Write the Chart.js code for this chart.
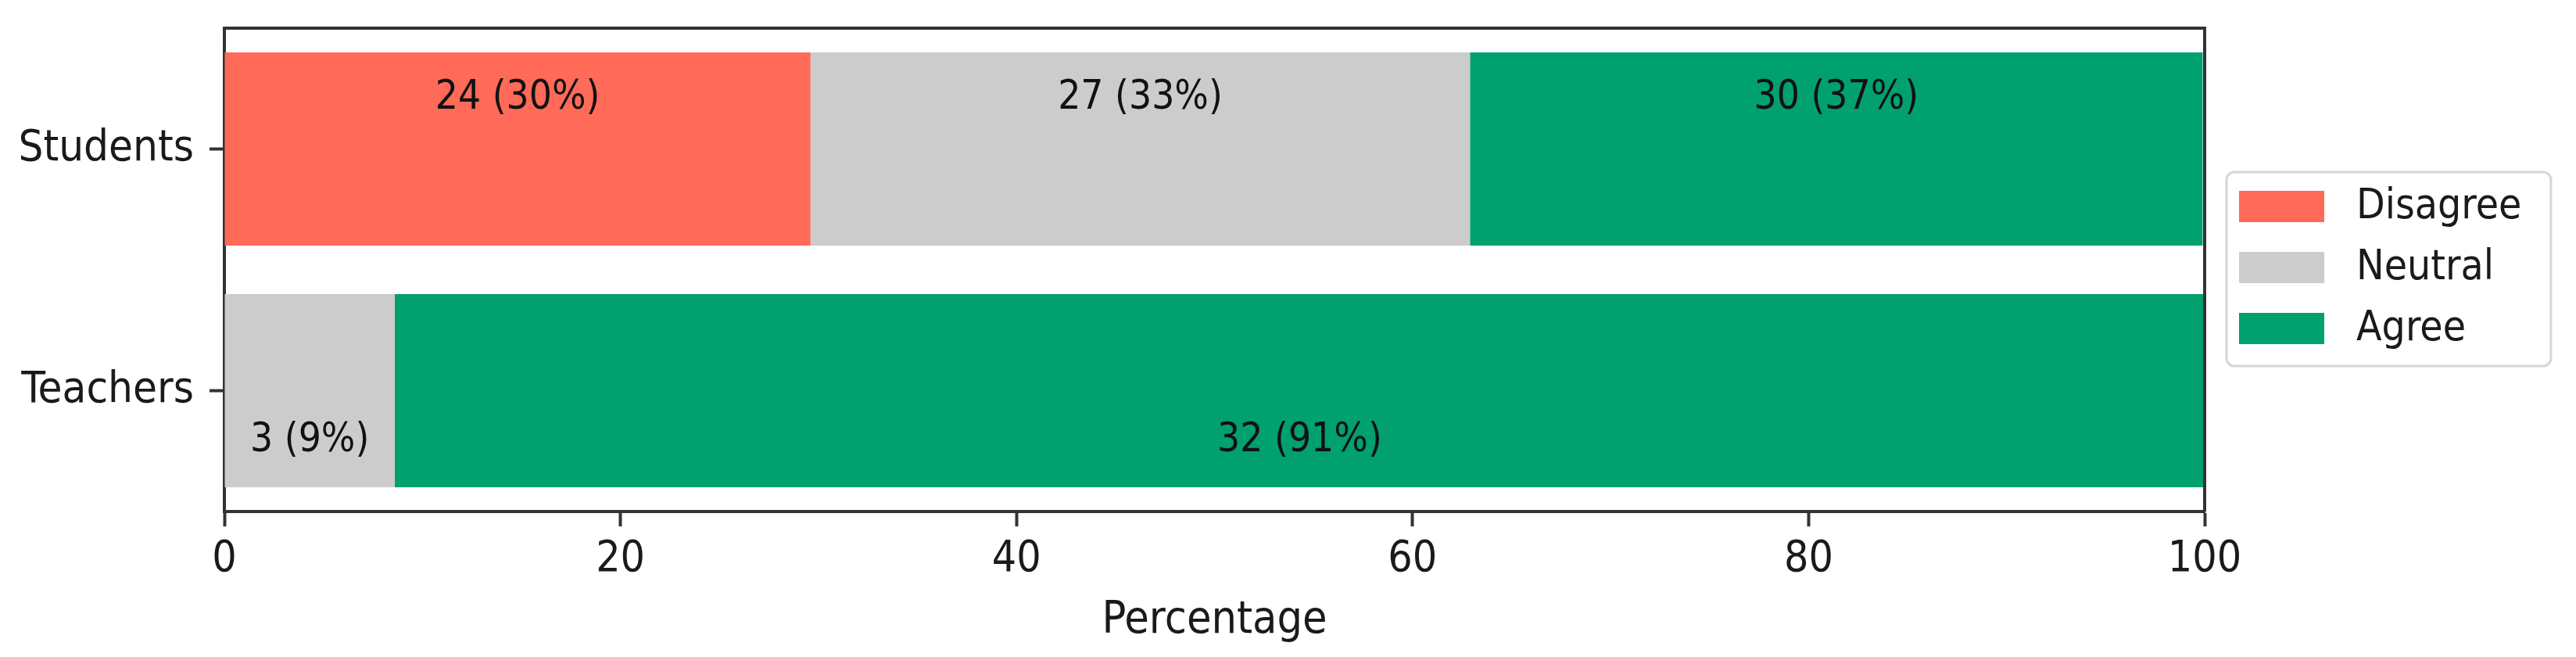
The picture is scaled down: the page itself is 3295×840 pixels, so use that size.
<!DOCTYPE html>
<html>
<head>
<meta charset="utf-8">
<script src="https://cdn.jsdelivr.net/npm/chart.js@4.4.1/dist/chart.umd.min.js"></script>
<style>
  html, body { margin: 0; padding: 0; background: #fff; }
  #wrap { width: 3295px; height: 840px; }
</style>
</head>
<body>
<div id="wrap"><canvas id="likert-chart" width="3295" height="840"></canvas></div>
<script>
// groups and answer categories
const groups = ['Students', 'Teachers'];
const answers = ['Disagree', 'Neutral', 'Agree'];

// counts per answer (one entry per group)
const disagreeCounts = [24, 0];
const neutralCounts = [27, 3];
const agreeCounts = [30, 32];

// bar lengths in percent
const disagreePct = [29.6, 0];
const neutralPct = [33.3, 8.6];
const agreePct = [37.0, 91.4];

const xTicks = [0, 20, 40, 60, 80, 100];

const colors = ['#FF6A59', '#CCCCCC', '#00A06F'];
const FONT = "'DejaVu Sans Condensed', 'DejaVu Sans', sans-serif";

document.addEventListener('DOMContentLoaded', () => {
    const ctx = document.getElementById('likert-chart').getContext('2d');

    const counts = [disagreeCounts, neutralCounts, agreeCounts];
    const pcts = [disagreePct, neutralPct, agreePct];

    // labels inside the segments, e.g. "24 (30%)"
    const segmentLabels = {
        id: 'segmentLabels',
        afterDatasetsDraw(chart) {
            const c = chart.ctx;
            c.save();
            c.font = '51px ' + FONT;
            c.fillStyle = '#111';
            c.textAlign = 'center';
            c.textBaseline = 'middle';
            chart.data.datasets.forEach((ds, di) => {
                const meta = chart.getDatasetMeta(di);
                meta.data.forEach((bar, i) => {
                    const n = counts[di][i];
                    if (!n) return;
                    const p = pcts[di][i];
                    const shift = (i === 0 ? -0.26 : 0.26) * bar.height;
                    c.fillText(n + ' (' + Math.round(p) + '%)', (bar.x + bar.base) / 2, bar.y + shift);
                });
            });
            c.restore();
        }
    };

    // top and right spines plus the legend box
    const frameAndLegend = {
        id: 'frameAndLegend',
        afterDraw(chart) {
            const c = chart.ctx;
            const a = chart.chartArea;
            c.save();
            c.strokeStyle = '#333';
            c.lineWidth = 4;
            c.beginPath();
            c.moveTo(a.left, a.top);
            c.lineTo(a.right, a.top);
            c.lineTo(a.right, a.bottom);
            c.stroke();

            // legend
            const bx = 2848, by = 220, bw = 415, bh = 248;
            c.strokeStyle = '#d6d6d6';
            c.lineWidth = 3;
            c.beginPath();
            c.roundRect(bx, by, bw, bh, 10);
            c.fillStyle = 'rgba(255,255,255,0.8)';
            c.fill();
            c.stroke();

            c.font = '53px ' + FONT;
            c.textAlign = 'left';
            c.textBaseline = 'middle';
            answers.forEach((name, k) => {
                const y = 244 + k * 78;
                c.fillStyle = colors[k];
                c.fillRect(2864, y, 109, 40);
                c.fillStyle = '#1a1a1a';
                c.fillText(name, 3014, y + 21);
            });
            c.restore();
        }
    };

    new Chart(ctx, {
        type: 'bar',
        data: {
            labels: groups,
            datasets: [
                { label: answers[0], data: disagreePct, backgroundColor: colors[0] },
                { label: answers[1], data: neutralPct, backgroundColor: colors[1] },
                { label: answers[2], data: agreePct, backgroundColor: colors[2] }
            ]
        },
        options: {
            indexAxis: 'y',
            responsive: false,
            animation: false,
            devicePixelRatio: 1,
            layout: { padding: { left: 0, right: 475, top: 36, bottom: 0 } },
            datasets: {
                bar: { categoryPercentage: 1.0, barPercentage: 0.8, borderWidth: 0 }
            },
            plugins: {
                legend: { display: false },
                tooltip: { enabled: false }
            },
            scales: {
                x: {
                    stacked: true,
                    min: 0,
                    max: 100,
                    afterBuildTicks(scale) {
                        scale.ticks = xTicks.map(v => ({ value: v }));
                    },
                    afterFit(scale) { scale.height = 186; },
                    grid: {
                        drawOnChartArea: false,
                        drawTicks: true,
                        tickLength: 19,
                        tickWidth: 4,
                        tickColor: '#333'
                    },
                    border: { display: true, width: 4, color: '#333' },
                    ticks: {
                        padding: 10,
                        color: '#1a1a1a',
                        font: { family: FONT, size: 55 }
                    },
                    title: {
                        display: true,
                        text: 'Percentage',
                        color: '#1a1a1a',
                        font: { family: FONT, size: 57 },
                        padding: { top: 0, bottom: 12 }
                    }
                },
                y: {
                    stacked: true,
                    afterFit(scale) {
                        scale.width = 287;
                        scale.paddingTop = 0;
                        scale.paddingBottom = 0;
                    },
                    grid: {
                        offset: false,
                        drawOnChartArea: false,
                        drawTicks: true,
                        tickLength: 19,
                        tickWidth: 4,
                        tickColor: '#333'
                    },
                    border: { display: true, width: 4, color: '#333' },
                    ticks: {
                        padding: 20,
                        color: '#1a1a1a',
                        font: { family: FONT, size: 56 }
                    }
                }
            }
        },
        plugins: [segmentLabels, frameAndLegend]
    });
});
</script>
</body>
</html>
